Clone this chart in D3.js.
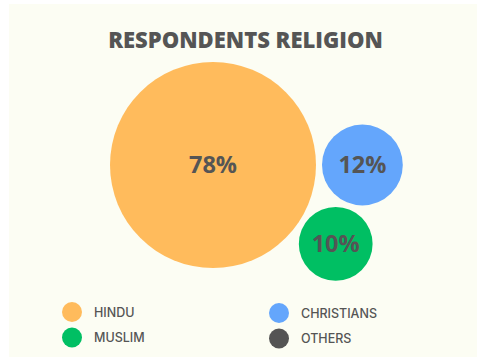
<!DOCTYPE html>
<html>
<head>
<meta charset="utf-8">
<script src="https://cdn.jsdelivr.net/npm/d3@7"></script>
<style>
html,body{margin:0;padding:0;background:#fff;}
svg{display:block;}
</style>
</head>
<body>
<div id="chart"></div>
<script>
// data
var categories = ['HINDU', 'CHRISTIANS', 'MUSLIM', 'OTHERS'];
var values = [78, 12, 10, 0];
var colors = ['#ffbb5c', '#64a6fc', '#00bf63', '#545454'];
var legendOrder = ['HINDU', 'MUSLIM', 'CHRISTIANS', 'OTHERS'];

var W = 477, H = 358;
var svg = d3.select('#chart').append('svg').attr('width', W).attr('height', H);

svg.append('rect').attr('x', 9).attr('y', 4).attr('width', W - 9).attr('height', 353)
    .attr('fill', '#fcfdf3');

svg.append('text')
    .attr('x', 245.5).attr('y', 48)
    .attr('text-anchor', 'middle')
    .attr('font-family', 'Open Sans')
    .attr('font-weight', 800)
    .attr('font-size', '22px')
    .attr('fill', '#555555')
    .text('RESPONDENTS RELIGION');

var r = d3.scaleSqrt().domain([0, d3.max(values)]).range([0, 103]);
var gap = 6;

// layout: big one, next to its right, third tangent to both below
var nodes = categories.map(function(c, i){ return {name:c, value:values[i], color:colors[i], r:r(values[i])}; });
var a = nodes[0], b = nodes[1], c = nodes[2];
a.x = 213; a.y = 165;
b.x = a.x + a.r + b.r + gap; b.y = a.y;
(function(){
    var d = b.x - a.x;
    var ra = a.r + c.r + gap, rb = b.r + c.r + gap;
    var px = (d*d + ra*ra - rb*rb) / (2*d);
    var py = Math.sqrt(ra*ra - px*px);
    c.x = a.x + px; c.y = a.y + py;
})();

var bubbles = nodes.filter(function(n){ return n.value > 0; });
var g = svg.append('g');
g.selectAll('circle').data(bubbles).enter().append('circle')
    .attr('cx', d=>d.x).attr('cy', d=>d.y).attr('r', d=>d.r)
    .attr('fill', d=>d.color);
g.selectAll('text').data(bubbles).enter().append('text')
    .attr('x', d=>d.x).attr('y', d=>d.y)
    .attr('dy', '0.36em')
    .attr('text-anchor', 'middle')
    .attr('font-family', 'Open Sans')
    .attr('font-weight', 700)
    .attr('font-size', '23.5px')
    .attr('fill', '#555555')
    .text(d=>d.value + '%');

// legend
var legend = svg.append('g');
var items = legendOrder.map(function(name, i){
    var k = categories.indexOf(name);
    return {name:name, color:colors[k], col:Math.floor(i/2), row:i%2};
});
var li = legend.selectAll('g').data(items).enter().append('g')
    .attr('transform', d=>'translate(' + (72 + d.col*207) + ',' + (312 + d.row*25.5 + d.col) + ')');
li.append('circle').attr('r', 10).attr('fill', d=>d.color);
li.append('text')
    .attr('x', 22).attr('dy', '0.36em')
    .attr('font-family', 'Inter')
    .attr('font-weight', 500)
    .attr('font-size', '12.5px')
    .attr('fill', '#555555')
    .text(d=>d.name);
</script>
</body>
</html>
